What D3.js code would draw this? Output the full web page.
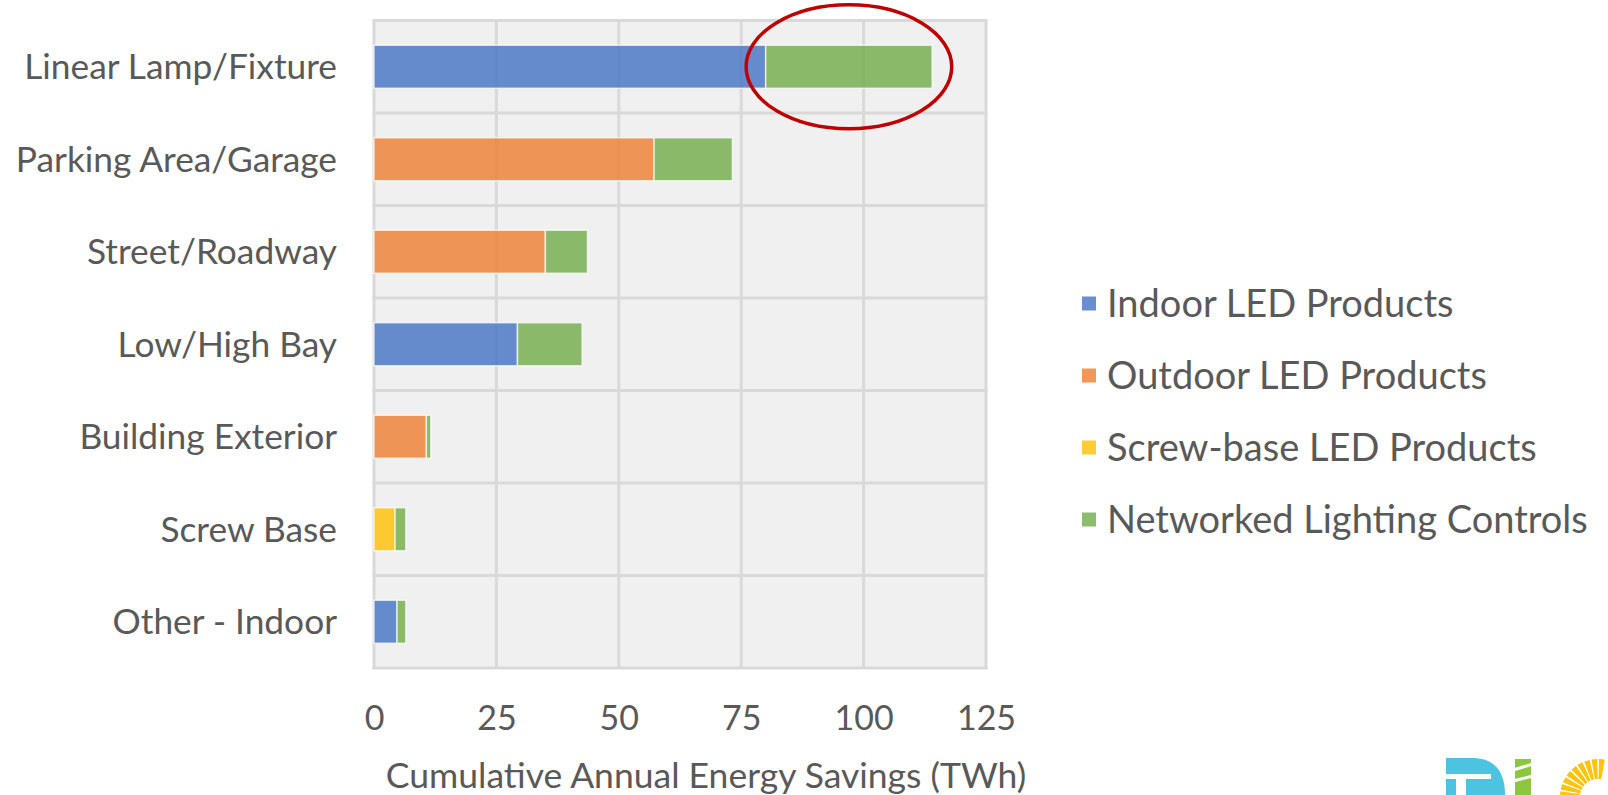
<!DOCTYPE html>
<html>
<head>
<meta charset="utf-8">
<script src="https://cdn.jsdelivr.net/npm/d3@7"></script>
<style>
  body { margin: 0; background: #fff; }
  svg { display: block; }
  text { font-family: Lato, "Open Sans", sans-serif; fill: #595959; }
</style>
</head>
<body>
<script>
// chart data
var categories = ["Linear Lamp/Fixture", "Parking Area/Garage", "Street/Roadway", "Low/High Bay",
                  "Building Exterior", "Screw Base", "Other - Indoor"];
var seriesNames = ["Indoor LED Products", "Outdoor LED Products", "Screw-base LED Products", "Networked Lighting Controls"];
var indoorLED    = [80, 0, 0, 29.3, 0, 0, 4.7];
var outdoorLED   = [0, 57.2, 35, 0, 10.7, 0, 0];
var screwBaseLED = [0, 0, 0, 0, 0, 4.3, 0];
var networked    = [34, 16, 8.6, 13.2, 0.9, 2.2, 1.8];
var xTicks = [0, 25, 50, 75, 100, 125];
var colors = ["#4472C4", "#ED7D31", "#FFC000", "#70AD47"];

var width = 1608, height = 795;
var plot = {left: 374, right: 986, top: 20.5, bottom: 668};

var svg = d3.select("body").append("svg")
    .attr("width", width)
    .attr("height", height);

var table = categories.map(function(c, i){
  var row = {cat: c};
  row[seriesNames[0]] = indoorLED[i];
  row[seriesNames[1]] = outdoorLED[i];
  row[seriesNames[2]] = screwBaseLED[i];
  row[seriesNames[3]] = networked[i];
  return row;
});

var layers = d3.stack().keys(seriesNames)(table);

var x = d3.scaleLinear().domain([0, 125]).range([plot.left, plot.right]);
var y = d3.scaleBand().domain(categories).range([plot.top, plot.bottom])
    .paddingInner(0.535).paddingOuter(0.2675);
var step = y.step();

// plot background
svg.append("rect")
  .attr("x", plot.left).attr("y", plot.top)
  .attr("width", plot.right - plot.left).attr("height", plot.bottom - plot.top)
  .attr("fill", "#f0f0f0");

// vertical grid
svg.append("g").selectAll("line")
  .data(xTicks).enter().append("line")
  .attr("x1", function(d){ return x(d); }).attr("x2", function(d){ return x(d); })
  .attr("y1", plot.top).attr("y2", plot.bottom)
  .attr("stroke", "#d9d9d9").attr("stroke-width", 3);

// horizontal lines between categories
svg.append("g").selectAll("line")
  .data(d3.range(categories.length + 1)).enter().append("line")
  .attr("x1", plot.left - 1.5).attr("x2", plot.right + 1.5)
  .attr("y1", function(i){ return plot.top + i * step; })
  .attr("y2", function(i){ return plot.top + i * step; })
  .attr("stroke", "#d9d9d9").attr("stroke-width", 3);

// stacked bars
var groups = svg.selectAll(".layer")
  .data(layers).enter().append("g")
  .attr("class", "layer")
  .attr("fill", function(d, i){ return colors[i]; });

groups.selectAll("rect")
  .data(function(d){ return d.filter(function(s){ return s[1] - s[0] > 0; }); })
  .enter().append("rect")
  .attr("x", function(d){ return x(d[0]); })
  .attr("width", function(d){ return x(d[1]) - x(d[0]); })
  .attr("y", function(d){ return y(d.data.cat); })
  .attr("height", y.bandwidth())
  .attr("fill-opacity", 0.8)
  .attr("stroke", "#fff").attr("stroke-opacity", 0.7).attr("stroke-width", 1.5);

// category labels
svg.append("g").selectAll("text")
  .data(categories).enter().append("text")
  .attr("x", 337)
  .attr("y", function(d){ return y(d) + y.bandwidth() / 2; })
  .attr("dy", "0.35em")
  .attr("text-anchor", "end")
  .attr("font-size", 35.3)
  .text(function(d){ return d; });

// x axis tick labels
var xAxis = svg.append("g")
  .attr("transform", "translate(0,718)")
  .call(d3.axisBottom(x).tickValues(xTicks).tickSize(0).tickPadding(0));
xAxis.select(".domain").remove();
xAxis.selectAll("text")
  .attr("font-size", 34)
  .attr("font-family", "Lato, 'Open Sans', sans-serif")
  .attr("fill", "#595959")
  .attr("dy", "0.35em");

// axis title
svg.append("text")
  .attr("x", 706).attr("y", 776)
  .attr("dy", "0.35em")
  .attr("text-anchor", "middle")
  .attr("font-size", 35.5)
  .text("Cumulative Annual Energy Savings (TWh)");

// legend
var legend = svg.append("g").selectAll("g")
  .data(seriesNames).enter().append("g")
  .attr("transform", function(d, i){ return "translate(1082," + (303.5 + i * 72) + ")"; });
legend.append("rect")
  .attr("x", 0).attr("y", -7).attr("width", 14).attr("height", 14)
  .attr("fill", function(d, i){ return colors[i]; })
  .attr("fill-opacity", 0.8);
legend.append("text")
  .attr("x", 25).attr("dy", "0.35em")
  .attr("font-size", 38)
  .text(function(d){ return d; });

// red ellipse annotation around the controls segment of the first row
svg.append("ellipse")
  .attr("cx", x(97)).attr("cy", y(categories[0]) + y.bandwidth() / 2)
  .attr("rx", x(21) - x(0)).attr("ry", 62)
  .attr("fill", "none").attr("stroke", "#C00000").attr("stroke-width", 3.5);

// partial logo in the bottom right corner
var logo = svg.append("g");
logo.append("path")
  .attr("d", "M1446,795 L1446,758 L1475,758 Q1505,760 1505,795 Z")
  .attr("fill", "#4cc3e0");
logo.append("rect").attr("x", 1446).attr("y", 774).attr("width", 45).attr("height", 5).attr("fill", "#fff");
logo.append("rect").attr("x", 1456).attr("y", 779).attr("width", 10).attr("height", 16).attr("fill", "#fff");
logo.append("rect").attr("x", 1515).attr("y", 759).attr("width", 16).attr("height", 36).attr("fill", "#8dc63f");
logo.append("path").attr("d", "M1513,770 L1533,764 M1513,781 L1533,776").attr("stroke", "#fff").attr("stroke-width", 3);
var sunArc = d3.arc().innerRadius(18).outerRadius(38);
logo.selectAll(".ray")
  .data(d3.range(9)).enter().append("path")
  .attr("transform", "translate(1598,797)")
  .attr("d", function(i){
    var a0 = -Math.PI / 2 + i * 0.2, a1 = a0 + 0.15;
    return sunArc({startAngle: a0, endAngle: a1});
  })
  .attr("fill", "#ffc20e");
</script>
</body>
</html>
